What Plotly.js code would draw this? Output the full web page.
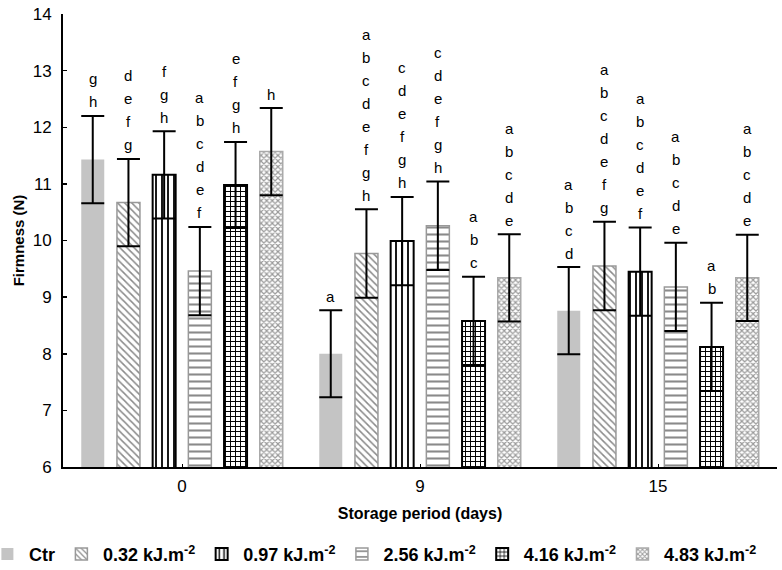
<!DOCTYPE html>
<html>
<head>
<meta charset="utf-8">
<script src="https://cdn.plot.ly/plotly-3.0.1.min.js"></script>
<style>html,body{margin:0;padding:0;background:#fff;}#chart{width:782px;height:570px;}</style>
</head>
<body>
<div id="chart"></div>
<script>
// ---- data ----
const categories = ['0', '9', '15'];
const seriesNames = ['Ctr', '0.32 kJ.m<sup>-2</sup>', '0.97 kJ.m<sup>-2</sup>', '2.56 kJ.m<sup>-2</sup>', '4.16 kJ.m<sup>-2</sup>', '4.83 kJ.m<sup>-2</sup>'];
const ctr   = [11.43, 8.00, 8.76];
const d032  = [10.67, 9.77, 9.55];
const d097  = [11.16, 9.99, 9.45];
const d256  = [9.46, 10.26, 9.18];
const d416  = [10.98, 8.58, 8.12];
const d483  = [11.57, 9.34, 9.34];
const errCtr  = [0.77, 0.77, 0.77];
const err032  = [0.77, 0.78, 0.78];
const err097  = [0.77, 0.78, 0.78];
const err256  = [0.78, 0.78, 0.78];
const err416  = [0.76, 0.78, 0.78];
const err483  = [0.77, 0.77, 0.76];
const lettersCtr = ['gh', 'a', 'abcd'];
const letters032 = ['defg', 'abcdefgh', 'abcdefg'];
const letters097 = ['fgh', 'cdefgh', 'abcdef'];
const letters256 = ['abcdef', 'cdefgh', 'abcde'];
const letters416 = ['efgh', 'abc', 'ab'];
const letters483 = ['h', 'abcde', 'abcde'];

const values = [ctr, d032, d097, d256, d416, d483];
const errors = [errCtr, err032, err097, err256, err416, err483];
const letters = [lettersCtr, letters032, letters097, letters256, letters416, letters483];

// ---- styles ----
const styles = [
  {color: '#c4c4c4', line: {color: '#c4c4c4', width: 0}},
  {color: '#ffffff', line: {color: '#999999', width: 1.5}, pattern: {shape: '\\', size: 5, solidity: 0.3, fgcolor: '#8a8a8a', bgcolor: '#ffffff'}},
  {color: '#ffffff', line: {color: '#000000', width: 2}, pattern: {shape: '|', size: 6, solidity: 0.3, fgcolor: '#000000', bgcolor: '#ffffff'}},
  {color: '#ffffff', line: {color: '#999999', width: 1.5}, pattern: {shape: '-', size: 7, solidity: 0.3, fgcolor: '#8a8a8a', bgcolor: '#ffffff'}},
  {color: '#ffffff', line: {color: '#000000', width: 2}, pattern: {shape: '+', size: 5, solidity: 0.35, fgcolor: '#000000', bgcolor: '#ffffff'}},
  {color: '#ffffff', line: {color: '#aaaaaa', width: 1.5}, pattern: {shape: 'x', size: 4, solidity: 0.5, fgcolor: '#9a9a9a', bgcolor: '#ffffff'}}
];

const traces = values.map((v, i) => ({
  type: 'bar',
  name: seriesNames[i],
  x: categories,
  y: v,
  marker: styles[i],
  error_y: {type: 'data', array: errors[i], visible: true, color: '#000000', thickness: 2, width: 11.5},
  hoverinfo: 'skip'
}));

const margin = {l: 63, r: 5, t: 14, b: 103, autoexpand: false};
const plotW = 782 - margin.l - margin.r;
const bargap = 0.1;
const slot = plotW / categories.length * (1 - bargap) / values.length;

const annotations = [];
values.forEach((v, i) => {
  v.forEach((val, j) => {
    const top = val + errors[i][j];
    const ls = letters[i][j].split('');
    const n = ls.length;
    ls.forEach((ch, k) => {
      annotations.push({
        x: j, y: top, xref: 'x', yref: 'y',
        text: ch, showarrow: false,
        xshift: (i - (values.length - 1) / 2) * slot,
        yshift: 14 + 23 * (n - 1 - k),
        yanchor: 'middle', xanchor: 'center',
        font: {family: 'Liberation Sans, Arial, sans-serif', size: 15, color: '#000'}
      });
    });
  });
});

const layout = {
  width: 782, height: 570,
  margin: margin,
  paper_bgcolor: '#ffffff', plot_bgcolor: '#ffffff',
  barmode: 'group', bargap: bargap, bargroupgap: 0.356,
  font: {family: 'Liberation Sans, Arial, sans-serif', color: '#000'},
  showlegend: true,
  legend: {orientation: 'h', x: -0.108, xanchor: 'left', y: -0.152, yanchor: 'top',
           font: {size: 18, weight: 'bold', color: '#000'}, itemwidth: 33, tracegroupgap: 0},
  xaxis: {
    type: 'category', range: [-0.5, 2.5], autorange: false, automargin: false,
    showline: true, linecolor: '#000', linewidth: 2,
    ticks: 'inside', ticklen: 3, tickcolor: '#000',
    ticklabelstandoff: 3,
    tickfont: {size: 17}, showgrid: false, zeroline: false,
    title: {text: 'Storage period (days)', font: {size: 16, weight: 'bold'}, standoff: 12}
  },
  yaxis: {
    range: [6, 14], autorange: false, automargin: false, dtick: 1, showline: true, linecolor: '#000', linewidth: 2,
    ticks: 'inside', ticklen: 4, tickcolor: '#000', tickwidth: 1.5,
    ticklabelstandoff: 6,
    tickfont: {size: 17}, showgrid: false, zeroline: false,
    title: {text: 'Firmness (N)', font: {size: 15, weight: 'bold'}, standoff: 4}
  },
  annotations: annotations
};

Plotly.newPlot('chart', traces, layout, {displayModeBar: false, staticPlot: true});
</script>
</body>
</html>
